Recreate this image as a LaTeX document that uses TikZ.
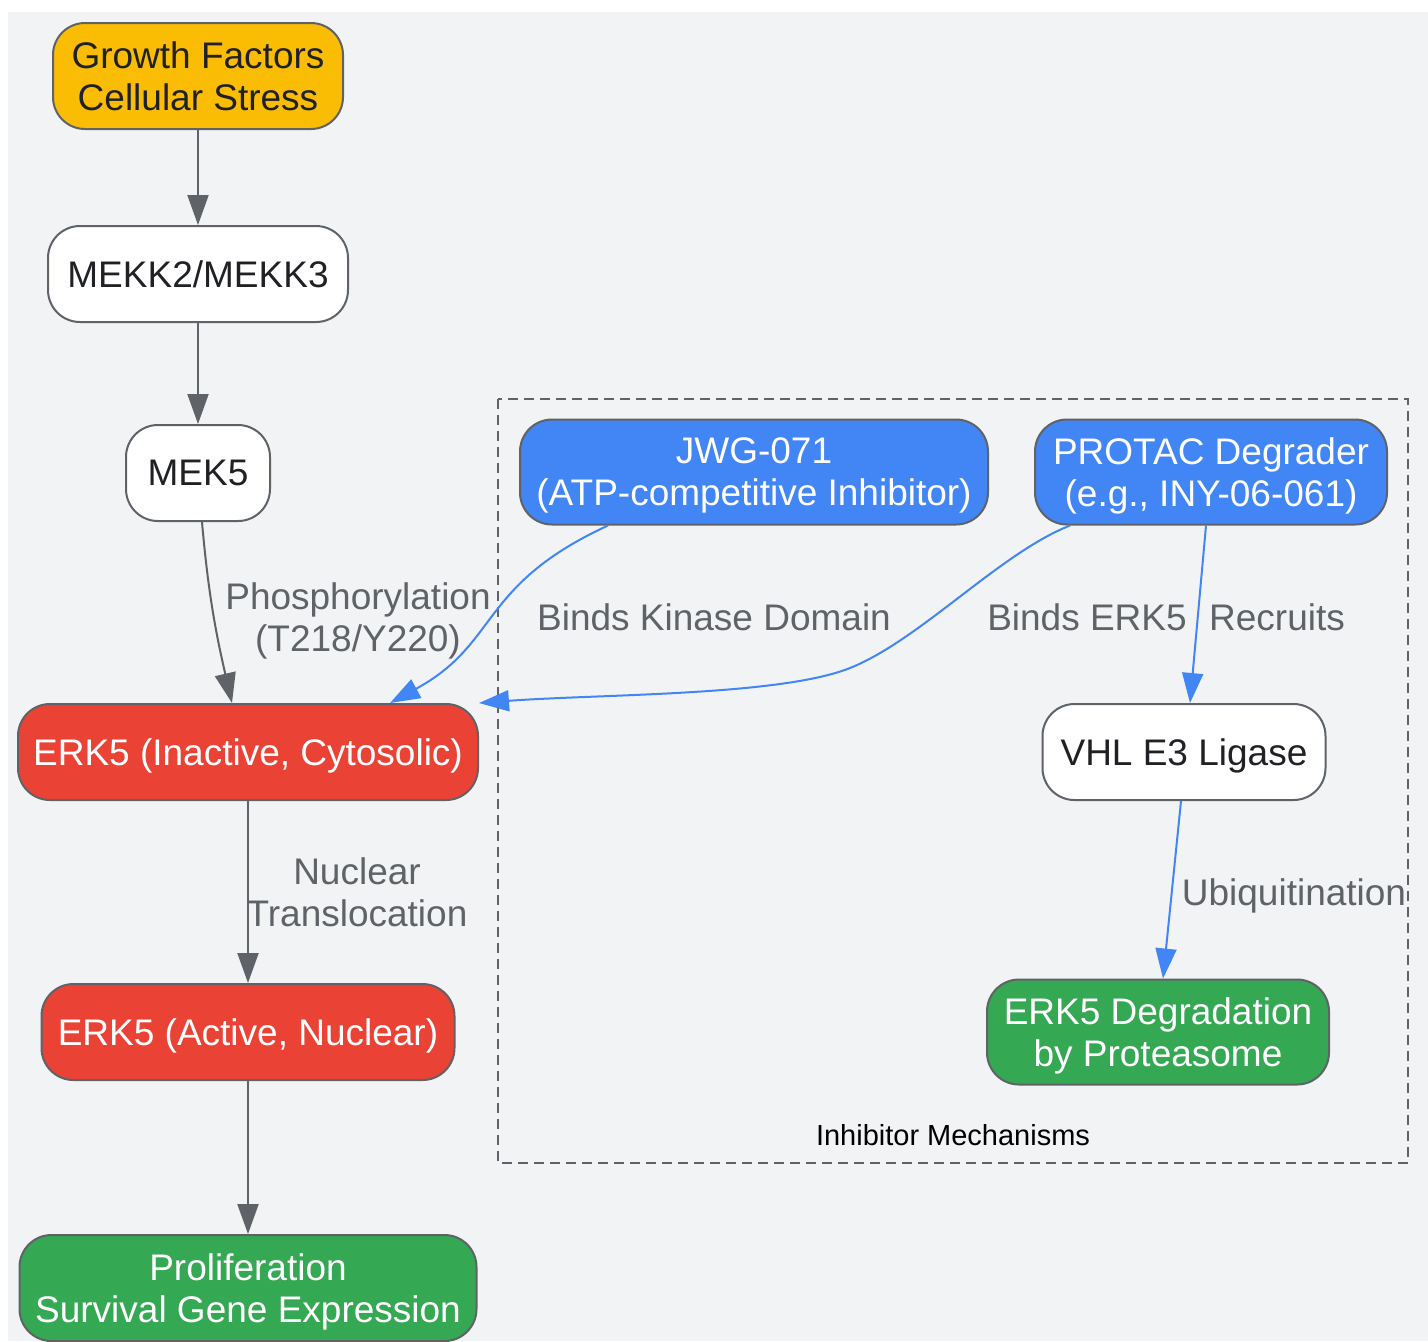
\documentclass[tikz,border=0pt]{standalone}
\usepackage{fontspec}
\setmainfont{Liberation Sans}
\usetikzlibrary{arrows.meta}
\definecolor{bggray}{HTML}{F1F3F4}
\definecolor{edgegray}{HTML}{5F6368}
\definecolor{txtdark}{HTML}{202124}
\definecolor{gyellow}{HTML}{FBBC04}
\definecolor{gred}{HTML}{EA4335}
\definecolor{ggreen}{HTML}{34A853}
\definecolor{gblue}{HTML}{4285F4}
\begin{document}
\begin{tikzpicture}[x=0.5pt,y=-0.5pt,
    box/.style={draw=edgegray,line width=1pt,rounded corners=16pt,align=center,
      minimum height=48pt,inner sep=0pt,text depth=0pt,fill=white,text=txtdark,
      font=\fontsize{18.5}{21}\selectfont},
    lbl/.style={text=edgegray,align=center,inner sep=0pt,text depth=0pt,
      font=\fontsize{18.5}{21}\selectfont},
    flow/.style={draw=edgegray,line width=1pt,-{Triangle[length=15pt,width=10.5pt]}},
    drug/.style={draw=gblue,line width=1pt,-{Triangle[length=15pt,width=10.5pt]}}]
      \useasboundingbox (0,0) rectangle (1428,1341);
      \fill[bggray] (8,12) rectangle (1428,1341);
      % inhibitor cluster
      \draw[edgegray,line width=1pt,dash pattern=on 5pt off 3pt] (498,399) rectangle (1408,1163);
      \node[inner sep=0pt,text depth=0pt,font=\fontsize{14.5}{17}\selectfont] (clab) at (953,1135) {Inhibitor Mechanisms};
      % pathway
      \node[box,fill=gyellow,minimum width=145pt,minimum height=53pt] (growth) at (198,76) {Growth Factors\\Cellular Stress};
      \node[box,minimum width=150pt] (mekk) at (198,274) {MEKK2/MEKK3};
      \node[box,minimum width=72pt] (mek5) at (198,473) {MEK5};
      \node[box,fill=gred,text=white,minimum width=230pt] (erkin) at (248,752) {ERK5 (Inactive, Cytosolic)};
      \node[box,fill=gred,text=white,minimum width=206.5pt] (erkact) at (248,1032) {ERK5 (Active, Nuclear)};
      \node[box,fill=ggreen,text=white,minimum width=228.5pt,minimum height=53pt] (prolif) at (248,1288) {Proliferation\\Survival Gene Expression};
      % inhibitors
      \node[box,fill=gblue,text=white,minimum width=234pt,minimum height=52.5pt] (jwg) at (754,472) {JWG-071\\(ATP-competitive Inhibitor)};
      \node[box,fill=gblue,text=white,minimum width=176pt,minimum height=52.5pt] (protac) at (1211,472) {PROTAC Degrader\\(e.g., INY-06-061)};
      \node[box,minimum width=141.5pt] (vhl) at (1184,752) {VHL E3 Ligase};
      \node[box,fill=ggreen,text=white,minimum width=171pt,minimum height=52.5pt] (degr) at (1158,1032) {ERK5 Degradation\\by Proteasome};
      % edge labels
      \node[lbl] (lphos) at (358,617) {Phosphorylation\\(T218/Y220)};
      \node[lbl] (lnuc) at (357,892) {Nuclear\\Translocation};
      \node[lbl] (lkin) at (714,617) {Binds Kinase Domain};
      \node[lbl] (lbind) at (1087,617) {Binds ERK5};
      \node[lbl] (lrec) at (1277,617) {Recruits};
      \node[lbl] (lubi) at (1294,892) {Ubiquitination};
      \begin{scope}[flow]
        \draw (growth) -- (mekk);
        \draw (mekk) -- (mek5);
        \draw ([xshift=2pt]mek5.south) to[out=-85,in=103] ([xshift=-8pt]erkin.north);
        \draw (erkin) -- (erkact);
        \draw (erkact) -- (prolif);
      \end{scope}
      \begin{scope}[drug]
        \draw ([xshift=-73pt]jwg.south) .. controls +(-130,60) and +(110,-60) .. ([xshift=71pt]erkin.north);
        \draw ([xshift=-70.5pt]protac.south) .. controls (1000,553) and (920,640) .. (850,668)
          .. controls (780,696) and (600,694) .. (erkin.north east);
        \draw ([xshift=-2.5pt]protac.south) -- ([xshift=3pt]vhl.north);
        \draw ([xshift=-1.5pt]vhl.south) -- ([xshift=2.5pt]degr.north);
      \end{scope}
    \end{tikzpicture}
\end{document}
